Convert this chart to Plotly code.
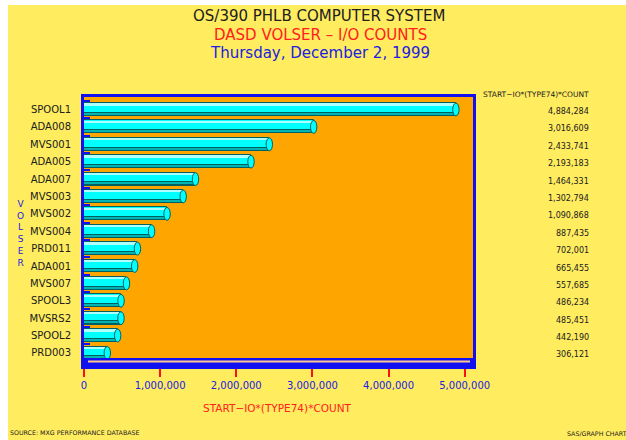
import plotly.graph_objects as go

# ---- data ----
volsers = ["SPOOL1", "ADA008", "MVS001", "ADA005", "ADA007", "MVS003", "MVS002",
           "MVS004", "PRD011", "ADA001", "MVS007", "SPOOL3", "MVSRS2", "SPOOL2", "PRD003"]
counts = [4884284, 3016609, 2433741, 2193183, 1464331, 1302794, 1090868,
          887435, 702001, 665455, 557685, 486234, 485451, 442190, 306121]
x_ticks = [0, 1000000, 2000000, 3000000, 4000000, 5000000]
x_tick_text = [f"{v:,}" for v in x_ticks]

# ---- layout geometry (pixels) ----
WIDTH, HEIGHT = 626, 440
L, R, T, B = 84, 473, 97, 366
W, H = R - L, B - T
def px(x): return (x - L) / W
def py(y): return (B - y) / H

YELLOW = "#FFEC5F"
ORANGE = "#FFA500"
BLUE = "#1010F0"
CYAN = "#00FFFF"
DARK = "#006060"
FONT = "DejaVu Sans"

fig = go.Figure()
# main cylinder body
fig.add_trace(go.Bar(y=volsers, x=counts, orientation="h", width=0.74, offset=-0.37,
                     marker=dict(color=CYAN, line=dict(color=DARK, width=1)),
                     hoverinfo="skip", showlegend=False))
# lower shaded band
fig.add_trace(go.Bar(y=volsers, x=counts, orientation="h", width=0.17, offset=0.19,
                     marker=dict(color="#00B4B4", line=dict(color=DARK, width=1)),
                     hoverinfo="skip", showlegend=False))
# upper highlight
fig.add_trace(go.Bar(y=volsers, x=counts, orientation="h", width=0.1, offset=-0.33,
                     marker=dict(color="#B0FFFF", line=dict(width=0)),
                     hoverinfo="skip", showlegend=False))

shapes = []
# end caps (ellipses) at bar ends
cap = 0.042e6
for i, v in enumerate(counts):
    shapes.append(dict(type="circle", xref="x", yref="y", x0=v - cap, x1=v + cap,
                       y0=i - 0.37, y1=i + 0.37, fillcolor=CYAN,
                       line=dict(color=DARK, width=1), layer="above"))
# floor
shapes.append(dict(type="rect", xref="paper", yref="paper", x0=0, x1=1,
                   y0=0, y1=py(358), fillcolor=BLUE, line=dict(width=0), layer="above"))
shapes.append(dict(type="line", xref="paper", yref="paper", x0=px(88), x1=px(470),
                   y0=py(361.5), y1=py(361.5), line=dict(color="#FFC890", width=2), layer="above"))
# white strips around the yellow page
shapes.append(dict(type="rect", xref="paper", yref="paper", x0=px(0), x1=px(WIDTH),
                   y0=py(5), y1=py(-2), fillcolor="white", line=dict(width=0)))
shapes.append(dict(type="rect", xref="paper", yref="paper", x0=px(-2), x1=px(8),
                   y0=py(HEIGHT + 2), y1=py(-2), fillcolor="white", line=dict(width=0)))

ann = []
def text(x, y, s, size, color, xanchor="center", yanchor="middle"):
    ann.append(dict(xref="paper", yref="paper", x=px(x), y=py(y), text=s, showarrow=False,
                    xanchor=xanchor, yanchor=yanchor,
                    font=dict(family=FONT, size=size, color=color)))

text(319, 16, "OS/390 PHLB COMPUTER SYSTEM", 15, "#202020")
text(320, 35, "DASD VOLSER – I/O COUNTS", 15, "#FF2020")
text(320, 53, "Thursday, December 2, 1999", 15, "#2020E0")
text(277, 408, "START−IO*(TYPE74)*COUNT", 10.5, "#FF2020")
text(591, 94, "START−IO*(TYPE74)*COUNT", 7.5, "#202020", xanchor="right")
text(8, 432, "SOURCE: MXG PERFORMANCE DATABASE", 6.3, "#202020", xanchor="left")
text(565, 433, "SAS/GRAPH CHART", 6.3, "#202020", xanchor="left")
ann.append(dict(xref="paper", yref="paper", x=px(15), y=py(233),
                text="V<br>O<br>L<br>S<br>E<br>R", showarrow=False,
                font=dict(family=FONT, size=9, color="#2020E0")))
for name, v in zip(volsers, counts):
    ann.append(dict(xref="paper", yref="y", x=px(591), y=name, yshift=-2,
                    text=f"{v:,}", showarrow=False, xanchor="right",
                    font=dict(family=FONT, size=8, color="#202020")))

fig.update_layout(
    width=WIDTH, height=HEIGHT,
    margin=dict(l=L, r=WIDTH - R, t=T, b=HEIGHT - B, pad=0),
    paper_bgcolor=YELLOW, plot_bgcolor=ORANGE,
    barmode="overlay", bargap=0,
    shapes=shapes, annotations=ann,
    xaxis=dict(range=[0, (R - L) / 76.14 * 1e6], tickvals=x_ticks, ticktext=x_tick_text,
               ticks="outside", ticklen=8, tickwidth=2, tickcolor="#FF1010",
               tickfont=dict(family=FONT, size=10, color="#2020E0"),
               showgrid=False, zeroline=False, showline=True, linecolor=BLUE,
               linewidth=3, mirror=True),
    yaxis=dict(type="category", categoryorder="array", categoryarray=volsers,
               range=[14.75, -0.72], ticks="inside", tickson="boundaries",
               ticklen=6, tickwidth=2, tickcolor=BLUE, ticklabelstandoff=8,
               tickfont=dict(family=FONT, size=10, color="#202020"),
               showgrid=False, zeroline=False, showline=True, linecolor=BLUE,
               linewidth=3, mirror=True),
    showlegend=False,
)

fig.write_html("out.html")
